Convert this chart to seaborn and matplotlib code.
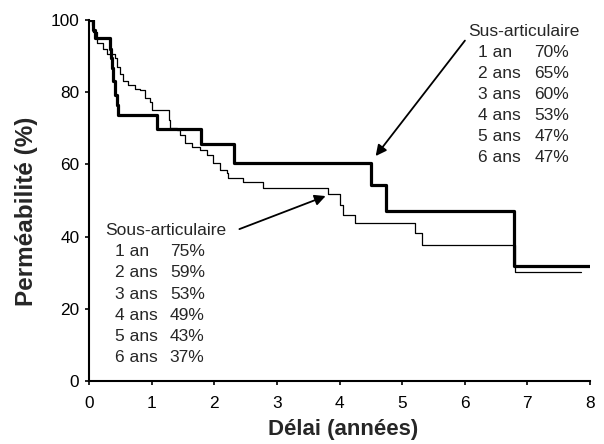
"""
Courbes de perméabilité (Kaplan-Meier) : sus- vs sous-articulaire
"""
import matplotlib
matplotlib.use("Agg")
import matplotlib.pyplot as plt
import numpy as np
import pandas as pd
import seaborn as sns

# --- données --------------------------------------------------------------
sus_t = [0, 0.06, 0.10, 0.34, 0.35, 0.36, 0.39, 0.42, 0.44, 0.47,
         1.08, 1.79, 2.31, 4.51, 4.74, 6.78, 8.0]
sus_v = [100, 97.2, 94.9, 92.1, 89.4, 86.6, 83.0, 79.2, 76.5, 73.7,
         69.7, 65.7, 60.3, 54.3, 47.2, 31.9, 31.9]

sous_t = [0, 0.04, 0.07, 0.12, 0.23, 0.28, 0.42, 0.44, 0.50, 0.55,
          0.63, 0.73, 0.81, 0.89, 0.97, 1.00, 1.27, 1.29, 1.40, 1.45,
          1.53, 1.64, 1.77, 1.88, 1.98, 2.09, 2.20, 2.22, 2.46, 2.78,
          3.82, 4.01, 4.06, 4.25, 5.21, 5.31, 6.80, 7.86]
sous_v = [100, 98.5, 96.8, 93.5, 92.1, 90.7, 89.4, 87.0, 85.0, 83.0,
          82.0, 81.0, 80.6, 78.3, 77.4, 75.1, 72.3, 70.0, 69.5, 68.1,
          65.8, 64.9, 64.0, 62.6, 60.3, 58.4, 57.5, 56.1, 55.2, 53.4,
          51.7, 48.8, 46.0, 43.7, 40.9, 37.7, 30.3, 30.3]

delais = ["1 an", "2 ans", "3 ans", "4 ans", "5 ans", "6 ans"]
sus_pct = ["70%", "65%", "60%", "53%", "47%", "47%"]
sous_pct = ["75%", "59%", "53%", "49%", "43%", "37%"]

x_ticks = [0, 1, 2, 3, 4, 5, 6, 7, 8]
y_ticks = [0, 20, 40, 60, 80, 100]

sus = pd.DataFrame({"t": sus_t, "v": sus_v})
sous = pd.DataFrame({"t": sous_t, "v": sous_v})

# --- style -----------------------------------------------------------------
sns.set_style("ticks")
plt.rcParams["font.family"] = ["Liberation Sans", "DejaVu Sans"]

fig = plt.figure(figsize=(6.04, 4.44), dpi=100)
ax = fig.add_axes([0.1474, 0.1419, 0.8294, 0.8131])

sns.lineplot(data=sous, x="t", y="v", color="black", linewidth=0.9,
             drawstyle="steps-post", estimator=None, sort=False, ax=ax)
sns.lineplot(data=sus, x="t", y="v", color="black", linewidth=2.3,
             drawstyle="steps-post", estimator=None, sort=False, ax=ax)

ax.set_xlim(0, 8)
ax.set_ylim(0, 100)
ax.set_xticks(x_ticks)
ax.set_yticks(y_ticks)
ax.tick_params(labelsize=12.4, length=3, width=1.2, color="black",
               labelcolor="black")
ax.tick_params(axis="x", pad=8)
ax.tick_params(axis="y", pad=4)
sns.despine(ax=ax)
for s in ("left", "bottom"):
    ax.spines[s].set_color("black")
    ax.spines[s].set_linewidth(1.5)

ax.set_xlabel("Délai (années)", fontsize=16, fontweight="bold")
ax.set_ylabel("Perméabilité (%)", fontsize=17.5, fontweight="bold")
ax.xaxis.set_label_coords(0.507, -0.133)
ax.xaxis.label.set_va("center")
ax.yaxis.set_label_coords(-0.124, 0.471)
ax.yaxis.label.set_va("center")

fs = 12.5
arrow = dict(arrowstyle="-|>", color="black", lw=1.3, mutation_scale=16)

# bloc sus-articulaire
ax.text(6.05, 96.7, "Sus-articulaire", fontsize=fs, va="center", ha="left")
for i, (d, p) in enumerate(zip(delais, sus_pct)):
    y = 90.9 - i * 5.82
    ax.text(6.21, y, d, fontsize=fs, va="center", ha="left")
    ax.text(7.11, y, p, fontsize=fs, va="center", ha="left")
ax.annotate("", xy=(4.55, 61.7), xytext=(6.03, 94.9), arrowprops=arrow)

# bloc sous-articulaire
ax.text(0.255, 41.8, "Sous-articulaire", fontsize=fs, va="center", ha="left")
for i, (d, p) in enumerate(zip(delais, sous_pct)):
    y = 35.8 - i * 5.88
    ax.text(0.415, y, d, fontsize=fs, va="center", ha="left")
    ax.text(1.29, y, p, fontsize=fs, va="center", ha="left")
ax.annotate("", xy=(3.82, 51.5), xytext=(2.36, 41.8), arrowprops=arrow)

fig.savefig("out.png", dpi=100)
